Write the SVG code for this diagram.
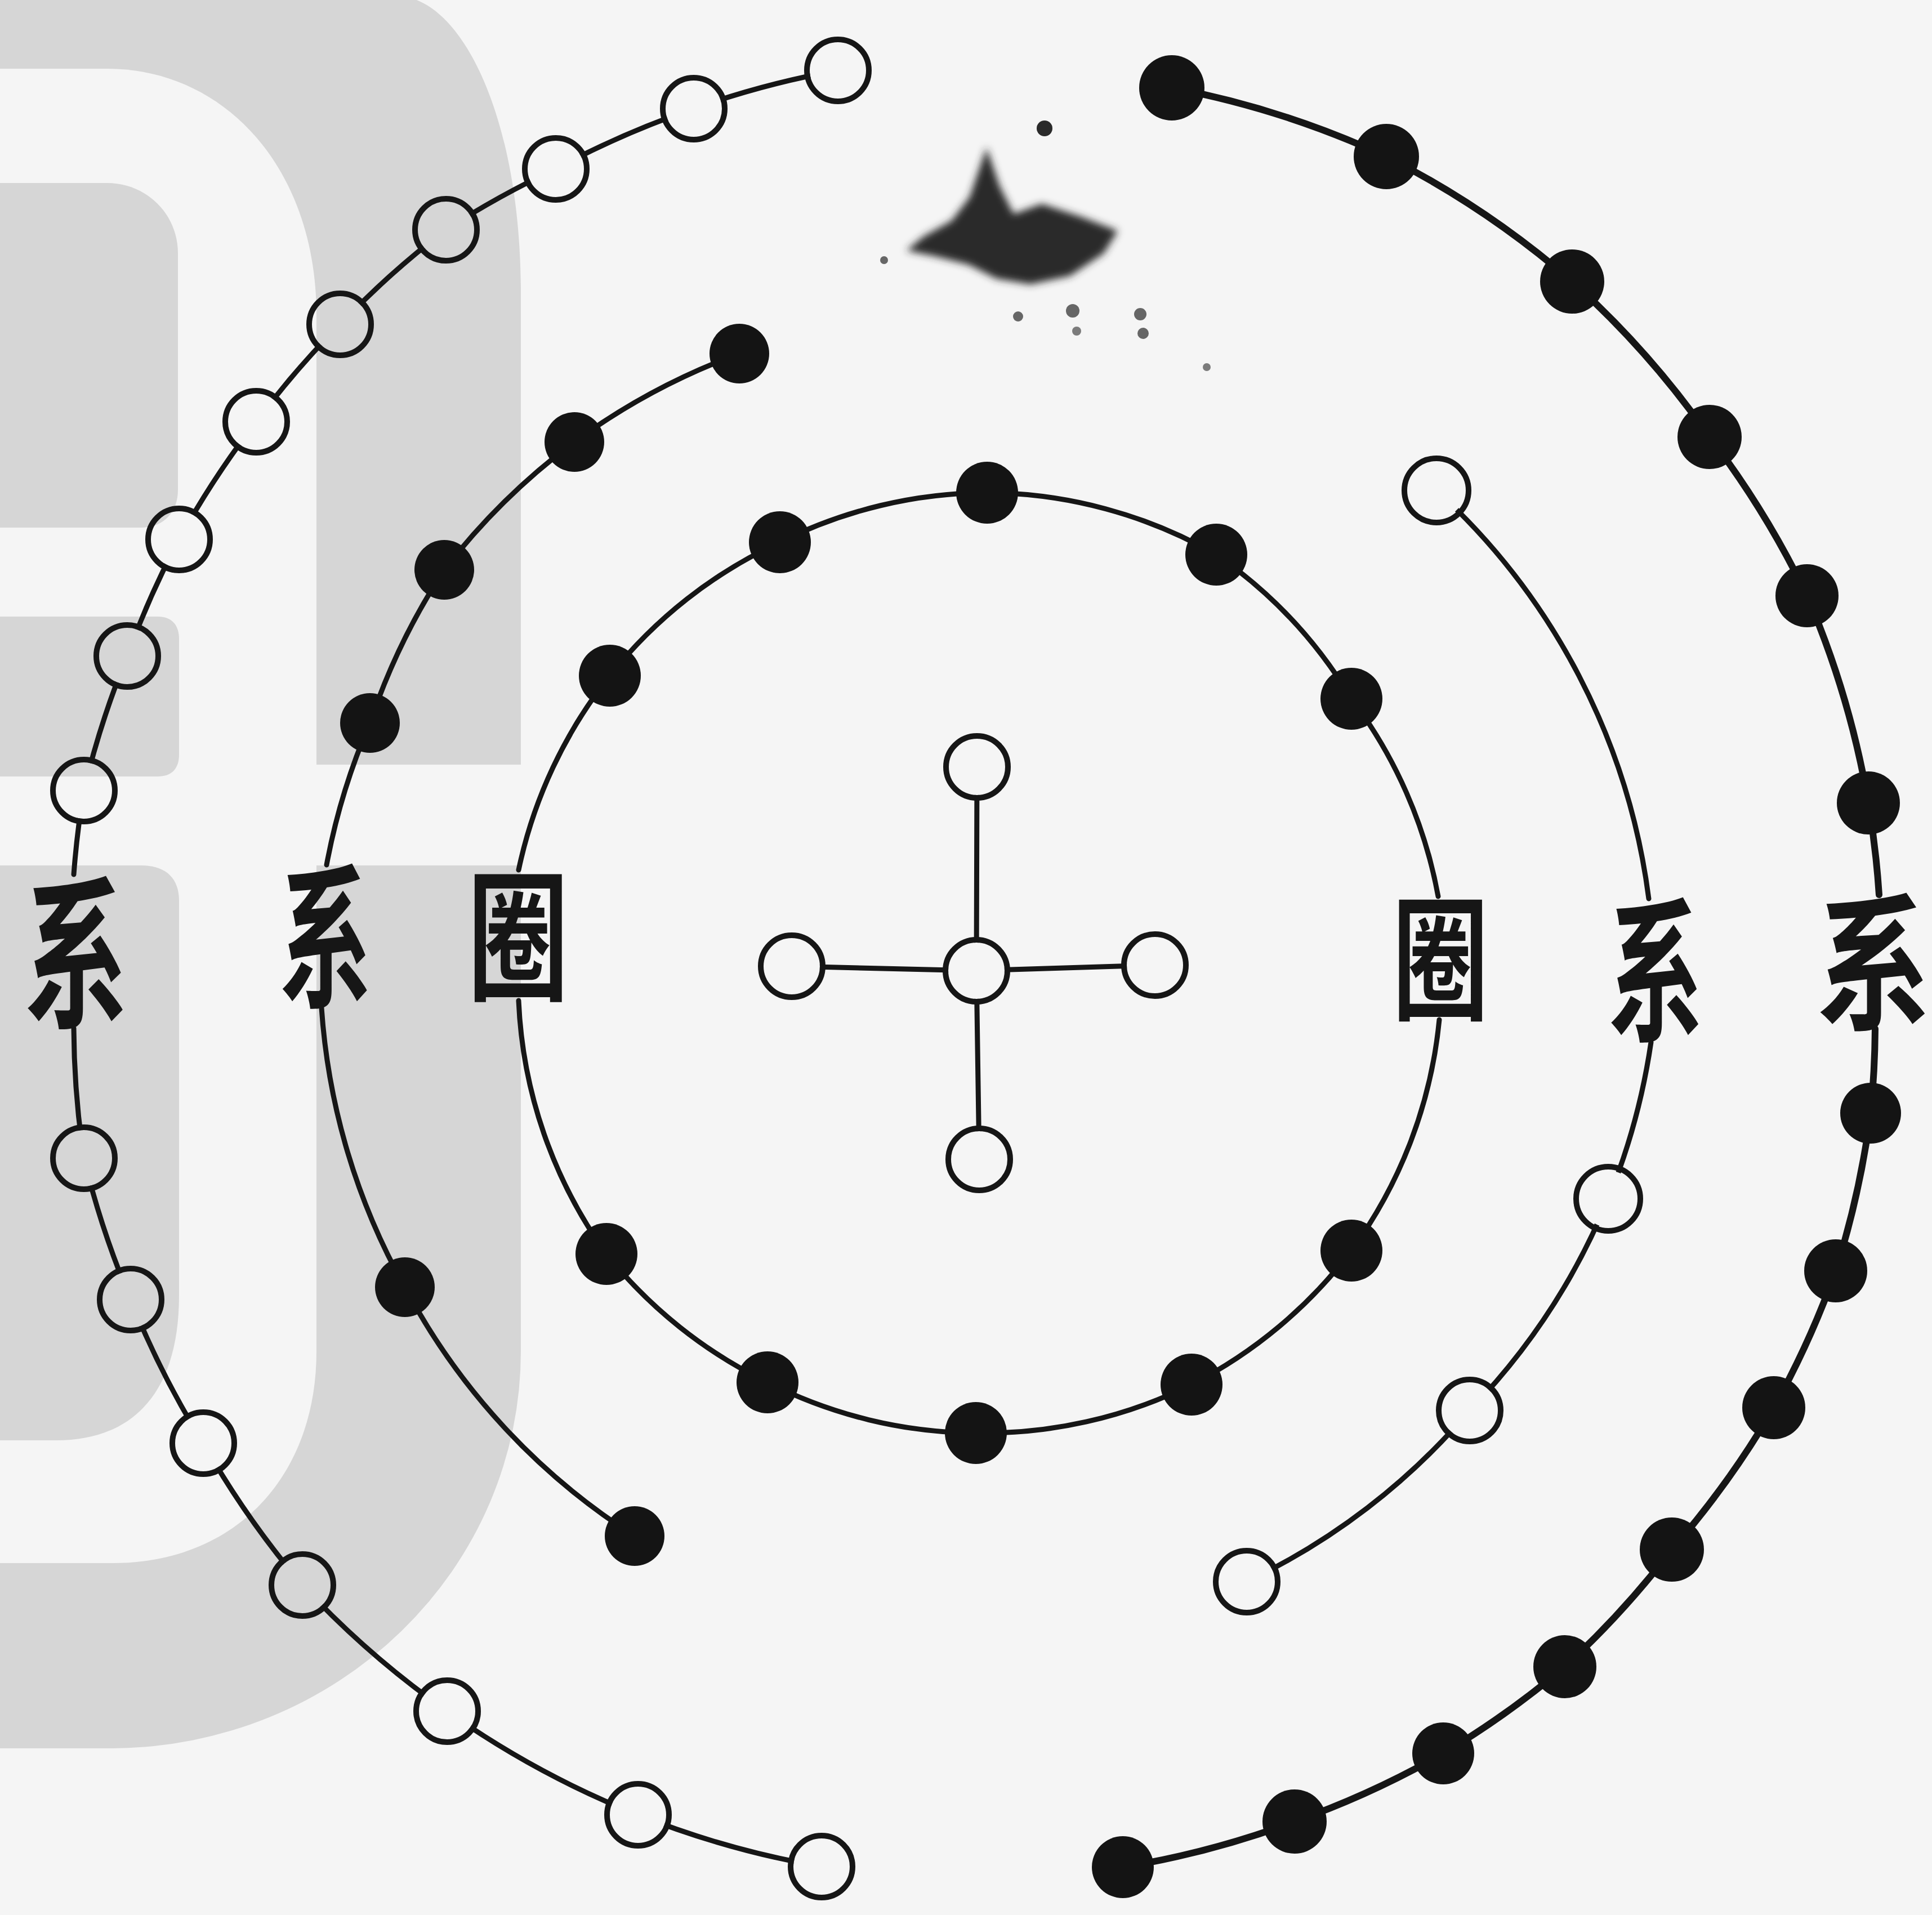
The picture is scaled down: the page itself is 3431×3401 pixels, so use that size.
<svg xmlns="http://www.w3.org/2000/svg" width="3431" height="3401" viewBox="0 0 3431 3401">
<style>
.bg{fill:#f5f5f5}
.wm{fill:#d6d6d6}
.wmw{fill:#f5f5f5}
.ln{fill:none;stroke:#161616;stroke-width:9;stroke-linecap:round}
.thick{stroke-width:12}
.open{fill:none;stroke:#161616;stroke-width:10}
.dot{fill:#141414}
.lbl{font-family:"Noto Sans CJK SC","Noto Sans CJK TC",sans-serif;font-weight:700;fill:#161616;text-anchor:middle}
</style>
<defs>
<filter id="blur" x="-20%" y="-20%" width="140%" height="140%"><feGaussianBlur stdDeviation="7"/></filter>
<mask id="holes" maskUnits="userSpaceOnUse" x="0" y="0" width="3431" height="3401">
<rect width="3431" height="3401" fill="#fff"/>
<g fill="#000">
<circle cx="1488" cy="125" r="50"/><circle cx="1232" cy="193" r="50"/><circle cx="987" cy="300" r="50"/><circle cx="792" cy="408" r="50"/><circle cx="604" cy="576" r="50"/><circle cx="455" cy="749" r="50"/><circle cx="318" cy="958" r="50"/><circle cx="226" cy="1165" r="50"/><circle cx="149" cy="1404" r="50"/><circle cx="149" cy="2057" r="50"/><circle cx="232" cy="2308" r="50"/><circle cx="361" cy="2563" r="50"/><circle cx="537" cy="2815" r="50"/><circle cx="794" cy="3039" r="50"/><circle cx="1133" cy="3223" r="50"/><circle cx="1459" cy="3315" r="50"/>
<circle cx="2551" cy="871" r="50"/><circle cx="2856" cy="2129" r="50"/><circle cx="2610" cy="2505" r="50"/><circle cx="2214" cy="2809" r="50"/>
<circle cx="1734" cy="1724" r="50"/><circle cx="1735" cy="1362" r="50"/><circle cx="1739" cy="2059" r="50"/><circle cx="1406" cy="1716" r="50"/><circle cx="2051" cy="1714" r="50"/>
</g>
</mask>
</defs>

<g id="background">
<rect class="bg" width="3431" height="3401"/>
<path class="wm" d="M0,0 H740 C840,40 925,240 925,520 V2400 A730,705 0 0 1 200,3105 H0 Z"/>
<path class="wmw" d="M0,122 H190 C400,122 562,300 562,560 V2400 C562,2620 420,2776 200,2776 H0 Z"/>
<rect class="wmw" x="560" y="1358" width="380" height="179"/>
<path class="wm" d="M0,325 H190 C260,325 316,380 316,450 V870 C316,910 290,937 250,937 H0 Z"/>
<path class="wm" d="M0,1095 H280 C305,1095 318,1110 318,1135 V1340 C318,1365 305,1379 280,1379 H0 Z"/>
<path class="wm" d="M0,1537 H250 C295,1537 318,1560 318,1600 V2300 C318,2480 230,2558 100,2558 H0 Z"/>
</g>

<g id="smudge" fill="#2a2a2a">
<path filter="url(#blur)" d="M1752,262 L1775,330 L1800,380 L1850,362 L1920,385 L1985,410 L1960,450 L1900,490 L1830,505 L1770,495 L1720,470 L1660,455 L1610,445 L1640,420 L1690,392 L1722,350 Z"/>
<circle cx="1855" cy="228" r="14"/>
<circle cx="1808" cy="562" r="9" opacity="0.7"/>
<circle cx="1905" cy="552" r="12" opacity="0.7"/>
<circle cx="1912" cy="588" r="8" opacity="0.6"/>
<circle cx="2025" cy="558" r="11" opacity="0.7"/>
<circle cx="2030" cy="592" r="10" opacity="0.7"/>
<circle cx="2143" cy="652" r="7" opacity="0.6"/>
<circle cx="1570" cy="462" r="7" opacity="0.7"/>
</g>

<g id="connectors" mask="url(#holes)">
<path class="ln" d="M1488,125 A1615,1615 0 0 0 1232,193 A1615,1615 0 0 0 987,300 A1615,1615 0 0 0 792,408 A1615,1615 0 0 0 604,576 A1615,1615 0 0 0 455,749 A1615,1615 0 0 0 318,958 A1615,1615 0 0 0 226,1165 A1615,1615 0 0 0 149,1404 A1615,1615 0 0 0 131,1553"/>
<path class="ln" d="M131,1826 A1615,1615 0 0 0 149,2057 A1615,1615 0 0 0 232,2308 A1615,1615 0 0 0 361,2563 A1615,1615 0 0 0 537,2815 A1615,1615 0 0 0 794,3039 A1615,1615 0 0 0 1133,3223 A1615,1615 0 0 0 1459,3315"/>
<path class="ln" d="M1313,628 A1175,1175 0 0 0 1020,785 A1175,1175 0 0 0 789,1012 A1175,1175 0 0 0 657,1284 A1175,1175 0 0 0 580,1536"/>
<path class="ln" d="M571,1790 A1175,1175 0 0 0 719,2286 A1175,1175 0 0 0 1127,2728"/>
<path class="ln" d="M921,1545 A830,830 0 0 1 1083,1200 A830,830 0 0 1 1385,963 A830,830 0 0 1 1753,875 A830,830 0 0 1 2160,985 A830,830 0 0 1 2400,1241 A830,830 0 0 1 2554,1592"/>
<path class="ln" d="M2556,1811 A830,830 0 0 1 2400,2221 A830,830 0 0 1 2116,2459 A830,830 0 0 1 1733,2545 A830,830 0 0 1 1363,2455 A830,830 0 0 1 1077,2227 A830,830 0 0 1 921,1777"/>
<path class="ln" d="M2551,871 A1185,1185 0 0 1 2928,1596"/>
<path class="ln" d="M2932,1851 A1185,1185 0 0 1 2856,2129 A1185,1185 0 0 1 2610,2505 A1185,1185 0 0 1 2214,2809"/>
<path class="ln thick" d="M2081,156 A1615,1615 0 0 1 2462,278 A1615,1615 0 0 1 2792,500 A1615,1615 0 0 1 3036,776 A1615,1615 0 0 1 3209,1058 A1615,1615 0 0 1 3318,1426 A1615,1615 0 0 1 3337,1589"/>
<path class="ln thick" d="M3330,1827 A1615,1615 0 0 1 3322,1977 A1615,1615 0 0 1 3260,2257 A1615,1615 0 0 1 3150,2500 A1615,1615 0 0 1 2969,2752 A1615,1615 0 0 1 2779,2960 A1615,1615 0 0 1 2563,3114 A1615,1615 0 0 1 2299,3235 A1615,1615 0 0 1 1994,3316"/>
<path class="ln" d="M1735,1362 L1734,1724 L1739,2059 M1406,1716 L1734,1724 L2051,1714"/>
</g>

<g id="cross-center"><circle class="open" cx="1734" cy="1724" r="55"/></g>
<g id="cross-top"><circle class="open" cx="1735" cy="1362" r="55"/></g>
<g id="cross-bottom"><circle class="open" cx="1739" cy="2059" r="55"/></g>
<g id="cross-left"><circle class="open" cx="1406" cy="1716" r="55"/></g>
<g id="cross-right"><circle class="open" cx="2051" cy="1714" r="55"/></g>

<g id="outer-left-1"><circle class="open" cx="1488" cy="125" r="55"/></g>
<g id="outer-left-2"><circle class="open" cx="1232" cy="193" r="55"/></g>
<g id="outer-left-3"><circle class="open" cx="987" cy="300" r="55"/></g>
<g id="outer-left-4"><circle class="open" cx="792" cy="408" r="55"/></g>
<g id="outer-left-5"><circle class="open" cx="604" cy="576" r="55"/></g>
<g id="outer-left-6"><circle class="open" cx="455" cy="749" r="55"/></g>
<g id="outer-left-7"><circle class="open" cx="318" cy="958" r="55"/></g>
<g id="outer-left-8"><circle class="open" cx="226" cy="1165" r="55"/></g>
<g id="outer-left-9"><circle class="open" cx="149" cy="1404" r="55"/></g>
<g id="outer-left-10"><circle class="open" cx="149" cy="2057" r="55"/></g>
<g id="outer-left-11"><circle class="open" cx="232" cy="2308" r="55"/></g>
<g id="outer-left-12"><circle class="open" cx="361" cy="2563" r="55"/></g>
<g id="outer-left-13"><circle class="open" cx="537" cy="2815" r="55"/></g>
<g id="outer-left-14"><circle class="open" cx="794" cy="3039" r="55"/></g>
<g id="outer-left-15"><circle class="open" cx="1133" cy="3223" r="55"/></g>
<g id="outer-left-16"><circle class="open" cx="1459" cy="3315" r="55"/></g>

<g id="middle-left-1"><circle class="dot" cx="1313" cy="628" r="53"/></g>
<g id="middle-left-2"><circle class="dot" cx="1020" cy="785" r="53"/></g>
<g id="middle-left-3"><circle class="dot" cx="789" cy="1012" r="53"/></g>
<g id="middle-left-4"><circle class="dot" cx="657" cy="1284" r="53"/></g>
<g id="middle-left-5"><circle class="dot" cx="719" cy="2286" r="53"/></g>
<g id="middle-left-6"><circle class="dot" cx="1127" cy="2728" r="53"/></g>

<g id="inner-1"><circle class="dot" cx="1753" cy="875" r="55"/></g>
<g id="inner-2"><circle class="dot" cx="2160" cy="985" r="55"/></g>
<g id="inner-3"><circle class="dot" cx="2400" cy="1241" r="55"/></g>
<g id="inner-4"><circle class="dot" cx="2400" cy="2221" r="55"/></g>
<g id="inner-5"><circle class="dot" cx="2116" cy="2459" r="55"/></g>
<g id="inner-6"><circle class="dot" cx="1733" cy="2545" r="55"/></g>
<g id="inner-7"><circle class="dot" cx="1363" cy="2455" r="55"/></g>
<g id="inner-8"><circle class="dot" cx="1077" cy="2227" r="55"/></g>
<g id="inner-9"><circle class="dot" cx="1083" cy="1200" r="55"/></g>
<g id="inner-10"><circle class="dot" cx="1385" cy="963" r="55"/></g>

<g id="middle-right-1"><circle class="open" cx="2551" cy="871" r="57"/></g>
<g id="middle-right-2"><circle class="open" cx="2856" cy="2129" r="57"/></g>
<g id="middle-right-3"><circle class="open" cx="2610" cy="2505" r="55"/></g>
<g id="middle-right-4"><circle class="open" cx="2214" cy="2809" r="55"/></g>

<g id="outer-right-1"><circle class="dot" cx="2081" cy="156" r="58"/></g>
<g id="outer-right-2"><circle class="dot" cx="2462" cy="278" r="58"/></g>
<g id="outer-right-3"><circle class="dot" cx="2792" cy="500" r="57"/></g>
<g id="outer-right-4"><circle class="dot" cx="3036" cy="776" r="57"/></g>
<g id="outer-right-5"><circle class="dot" cx="3209" cy="1058" r="56"/></g>
<g id="outer-right-6"><circle class="dot" cx="3318" cy="1426" r="56"/></g>
<g id="outer-right-7"><circle class="dot" cx="3322" cy="1977" r="54"/></g>
<g id="outer-right-8"><circle class="dot" cx="3260" cy="2257" r="56"/></g>
<g id="outer-right-9"><circle class="dot" cx="3150" cy="2500" r="56"/></g>
<g id="outer-right-10"><circle class="dot" cx="2969" cy="2752" r="57"/></g>
<g id="outer-right-11"><circle class="dot" cx="2779" cy="2960" r="56"/></g>
<g id="outer-right-12"><circle class="dot" cx="2563" cy="3114" r="55"/></g>
<g id="outer-right-13"><circle class="dot" cx="2299" cy="3235" r="57"/></g>
<g id="outer-right-14"><circle class="dot" cx="1994" cy="3316" r="55"/></g>

<g id="label-left-outer"><text class="lbl" font-size="290" transform="translate(135,1803) scale(0.64,1)">系</text></g>
<g id="label-left-middle"><text class="lbl" font-size="275" transform="translate(578,1768) scale(0.6,1)">系</text></g>
<g id="label-left-inner"><text class="lbl" font-size="250" transform="translate(920,1757) scale(0.72,1)">圈</text></g>
<g id="label-right-inner"><text class="lbl" font-size="238" transform="translate(2558,1792) scale(0.72,1)">圈</text></g>
<g id="label-right-middle"><text class="lbl" font-size="275" transform="translate(2940,1828) scale(0.62,1)">系</text></g>
<g id="label-right-outer"><text class="lbl" font-size="262" transform="translate(3327,1809) scale(0.78,1)">系</text></g>
</svg>
